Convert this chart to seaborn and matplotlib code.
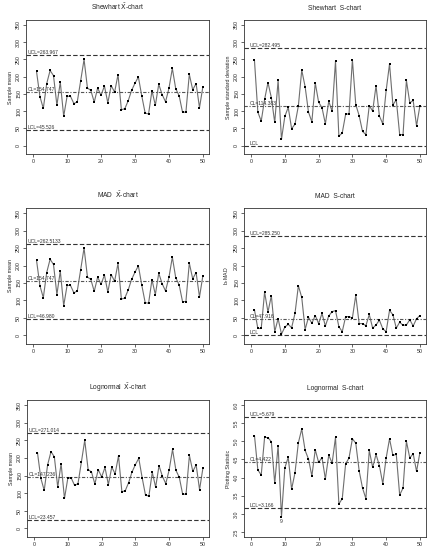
import numpy as np
import pandas as pd
import matplotlib
matplotlib.use("Agg")
import matplotlib.pyplot as plt
import matplotlib.transforms as mtransforms
import seaborn as sns

sns.set_style("ticks")
plt.rcParams['font.family'] = ['Liberation Sans', 'DejaVu Sans']

# sample number
samples = list(range(1, 51))

# sample means (same subgroups in all three X-bar charts)
xbar = [215, 142, 108, 180, 218, 203, 117, 184, 85, 143,
        143, 122, 127, 188, 250, 167, 160, 126, 167, 146,
        173, 124, 174, 155, 206, 104, 107, 130, 160, 181,
        199, 144, 94, 92, 159, 117, 178, 148, 127, 166,
        224, 165, 145, 97, 97, 207, 162, 180, 110, 171]

# sample standard deviations
sdev = [247, 97, 71, 134, 183, 139, 67, 189, 18, 85,
        111, 49, 62, 115, 219, 171, 97, 69, 182, 126,
        110, 63, 129, 99, 245, 27, 37, 91, 92, 249,
        119, 87, 41, 32, 116, 100, 174, 86, 63, 160,
        237, 118, 133, 32, 32, 189, 124, 131, 57, 116]

# b_n * MAD
mad = [73, 20, 20, 124, 67, 114, 11, 48, 4, 24,
       32, 22, 63, 142, 109, 17, 52, 35, 57, 34,
       63, 27, 56, 68, 71, 25, 11, 54, 54, 50,
       115, 34, 34, 28, 60, 21, 30, 44, 19, 11,
       72, 59, 21, 38, 29, 30, 45, 27, 48, 57]

# lognormal plotting statistic
lnstat = [5.16, 4.21, 4.07, 5.11, 5.10, 4.99, 3.84, 4.88, 2.92, 4.27,
          4.56, 3.68, 4.13, 4.96, 5.34, 4.75, 4.51, 4.04, 4.77, 4.42,
          4.55, 3.96, 4.62, 4.40, 5.11, 3.27, 3.42, 4.38, 4.54, 5.07,
          4.95, 4.19, 3.71, 3.42, 4.75, 4.28, 4.64, 4.33, 3.83, 4.54,
          5.07, 4.61, 4.64, 3.52, 3.71, 5.00, 4.54, 4.66, 4.17, 4.69]

titles = [r'Shewhart $\bar{\rm X}$-chart', 'Shewhart  S-chart',
          r'MAD  $\bar{\rm X}$-chart', 'MAD  S-chart',
          r'Lognormal  $\bar{\rm X}$-chart', 'Lognormal  S-chart']
ylabels = ['Sample mean', 'Sample standard deviation',
           'Sample mean', r'b$_n$MAD',
           'Sample mean', 'Plotting Statistic']
ucl = [263.967, 282.495, 262.5133, 285.250, 271.014, 5.679]
cl = [154.747, 114.383, 154.747, 47.916, 147.236, 4.422]
lcl = [45.526, 0, 46.980, 0, 23.457, 3.166]
ucl_txt = ['UCL=263.967', 'UCL=282.495', 'UCL=262.5133', 'UCL=285.250', 'UCL=271.014', 'UCL=5.679']
cl_txt = ['CL=154.747', 'CL=114.383', 'CL=154.747', 'CL=47.916', 'CL=147.236', 'CL=4.422']
lcl_txt = ['LCL=45.526', 'LCL', 'LCL=46.980', 'LCL', 'LCL=23.457', 'LCL=3.166']
series = [xbar, sdev, xbar, mad, xbar, lnstat]

W, H = 429, 550
fig = plt.figure(figsize=(W / 100, H / 100), dpi=100)

# axes boxes in pixels: left, top, right, bottom
boxes = [(26, 20, 209, 154), (244, 20, 426, 154),
         (26, 208, 209, 344), (244, 208, 426, 344),
         (27, 400, 209, 537), (244, 400, 426, 537)]

for i in range(6):
    l, t, r, b = boxes[i]
    ax = fig.add_axes([l / W, 1 - b / H, (r - l) / W, (b - t) / H])
    df = pd.DataFrame({'sample': samples, 'value': series[i]})
    sns.lineplot(data=df, x='sample', y='value', ax=ax, color='#6e6e6e',
                 linewidth=0.8)
    sns.scatterplot(data=df, x='sample', y='value', ax=ax, color='black',
                    marker='s', s=4, linewidth=0, zorder=3)
    ax.axhline(ucl[i], color='#333333', linestyle=(0, (4, 2)), linewidth=0.8)
    ax.axhline(cl[i], color='#555555', linestyle=(0, (3, 1.5, 1, 1.5)), linewidth=0.8)
    ax.axhline(lcl[i], color='#333333', linestyle=(0, (4, 2)), linewidth=0.8)

    trans = mtransforms.blended_transform_factory(ax.transAxes, ax.transData)
    for val, txt in [(ucl[i], ucl_txt[i]), (cl[i], cl_txt[i]), (lcl[i], lcl_txt[i])]:
        ax.text(0.01 if i % 2 == 0 else 0.03, val, txt, transform=trans,
                fontsize=3.6, color='#333333', va='bottom', ha='left')

    ax.set_xlim(-2.1, 51.8)
    ax.set_xticks([0, 10, 20, 30, 40, 50])
    if i == 5:
        ax.set_ylim(2.36, 6.14)
        ax.set_yticks([2.5, 3.0, 3.5, 4.0, 4.5, 5.0, 5.5, 6.0])
        ax.set_yticklabels(['2.5', '3.0', '3.5', '4.0', '4.5', '5.0', '5.5', '6.0'])
        # label the out-of-control sample
        ax.text(9, lnstat[8] - 0.06, '9', fontsize=3.6, ha='center', va='top', color='#333333')
    else:
        ax.set_ylim(-24.4, 364.4)
        ax.set_yticks([0, 50, 100, 150, 200, 250, 300, 350])

    ax.set_title(titles[i], fontsize=4.8, pad=7)
    ax.set_xlabel('')
    ax.set_ylabel(ylabels[i], fontsize=3.8, labelpad=2)
    ax.tick_params(axis='both', labelsize=3.8, length=2, width=0.5, pad=1.5, direction='out')
    for lab in ax.get_yticklabels():
        lab.set_rotation(90)
        lab.set_va('center')
    for sp in ax.spines.values():
        sp.set_linewidth(0.6)
        sp.set_color('#333333')

fig.savefig('out.png', dpi=100)
